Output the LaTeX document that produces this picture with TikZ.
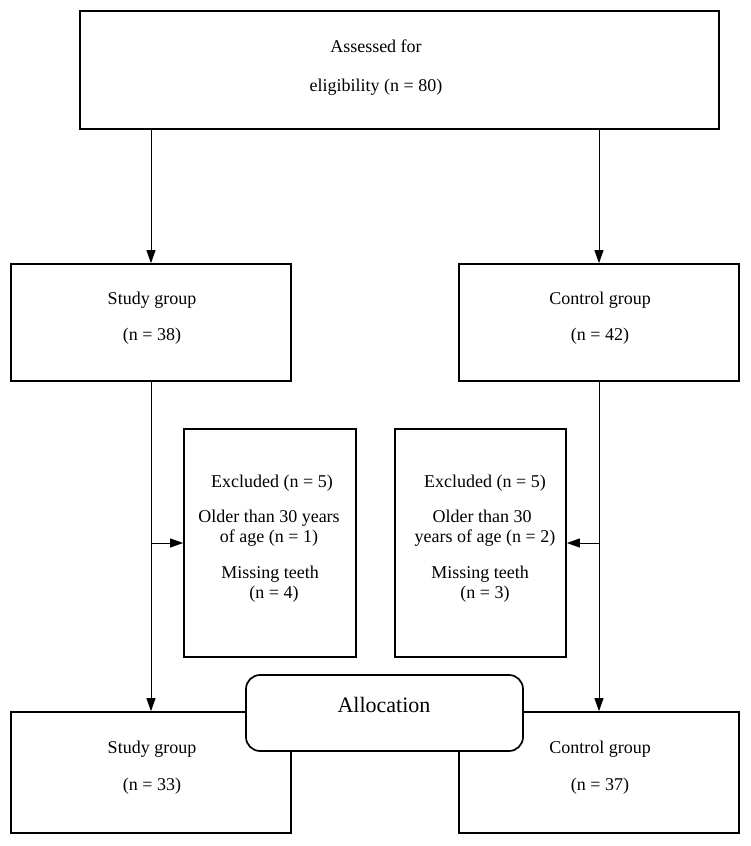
\documentclass[tikz,border=0pt]{standalone}
\usepackage{fontspec}
\setmainfont{Liberation Serif}
\usetikzlibrary{arrows.meta}
\begin{document}
\begin{tikzpicture}[x=1pt,y=-1pt,
  box/.style={draw, line width=1.7pt, fill=white, inner sep=0pt},
  txt/.style={anchor=base, inner sep=0pt, font=\fontsize{18}{20}\selectfont},
  bigtxt/.style={anchor=base, inner sep=0pt, font=\fontsize{22}{24}\selectfont},
  conn/.style={line width=0.9pt},
  arr/.style={conn, -{Triangle[length=13pt,width=9pt]}}]
\useasboundingbox (0,0) rectangle (751,846);
\fill[white] (0,0) rectangle (751,846);

% boxes
\node[box, minimum width=639pt, minimum height=118pt] (top) at (399.5,70) {};
\node[box, minimum width=280pt, minimum height=117pt] (study1) at (151,322.5) {};
\node[box, minimum width=280pt, minimum height=117pt] (control1) at (599,322.5) {};
\node[box, minimum width=172pt, minimum height=228pt] (exl) at (270,543) {};
\node[box, minimum width=171pt, minimum height=228pt] (exr) at (480.5,543) {};
\node[box, minimum width=280pt, minimum height=121pt] (study2) at (151,772.5) {};
\node[box, minimum width=280pt, minimum height=121pt] (control2) at (599,772.5) {};
\node[box, rounded corners=14pt, minimum width=277pt, minimum height=76pt] (alloc) at (384.5,713) {};

% connectors
\draw[arr] (top.south -| study1.north) -- (study1.north);
\draw[arr] (top.south -| control1.north) -- (control1.north);
\draw[arr] (study1.south) -- (study2.north);
\draw[arr] (control1.south) -- (control2.north);
\draw[arr] (study1.south |- exl.west) -- (exl.west);
\draw[arr] (control1.south |- exr.east) -- (exr.east);

% texts
\node[txt] (t1) at (376,52) {Assessed for};
\node[txt] (t2) at (376,91) {eligibility (n = 80)};

\node[txt] (s1a) at (152,304) {Study group};
\node[txt] (s1b) at (152,340) {(n = 38)};
\node[txt] (c1a) at (600,304) {Control group};
\node[txt] (c1b) at (600,340) {(n = 42)};

\node[txt] (el1) at (272,487) {Excluded (n = 5)};
\node[txt] (el2) at (269,522) {Older than 30 years};
\node[txt] (el3) at (269,542) {of age (n = 1)};
\node[txt] (el4) at (270,578) {Missing teeth};
\node[txt] (el5) at (274,598) {(n = 4)};

\node[txt] (er1) at (485,487) {Excluded (n = 5)};
\node[txt] (er2) at (482,522) {Older than 30};
\node[txt] (er3) at (485,542) {years of age (n = 2)};
\node[txt] (er4) at (480,578) {Missing teeth};
\node[txt] (er5) at (485,598) {(n = 3)};

\node[bigtxt] (al) at (384,712) {Allocation};

\node[txt] (s2a) at (152,753) {Study group};
\node[txt] (s2b) at (152,790) {(n = 33)};
\node[txt] (c2a) at (600,753) {Control group};
\node[txt] (c2b) at (600,790) {(n = 37)};
\end{tikzpicture}
\end{document}
